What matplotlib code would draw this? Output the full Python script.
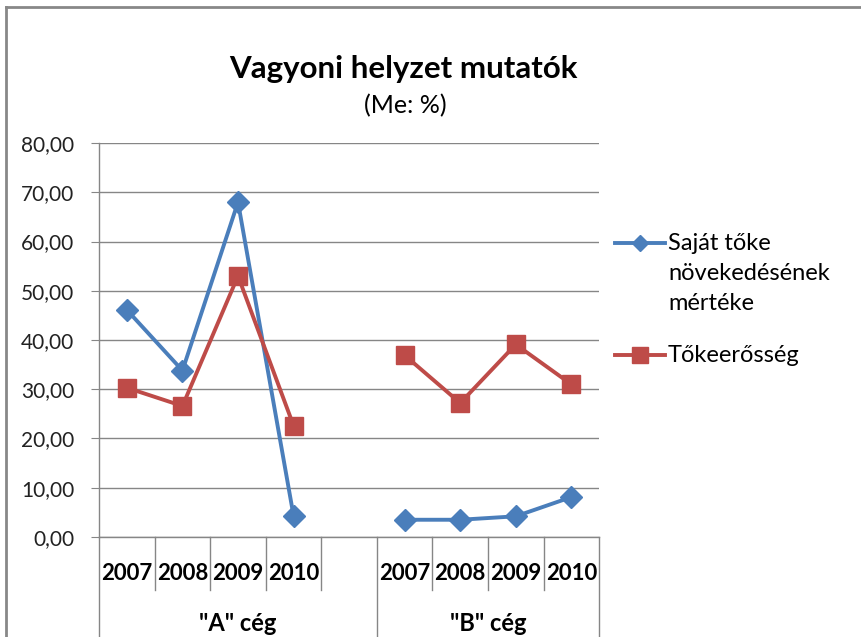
import matplotlib
matplotlib.use('Agg')
import matplotlib.pyplot as plt
import matplotlib.transforms as mtransforms
from matplotlib.lines import Line2D
import numpy as np

plt.rcParams['font.family'] = ['Lato', 'DejaVu Sans']

# data
years = ["2007", "2008", "2009", "2010"]
companies = ['"A" cég', '"B" cég']
sajat_toke_a = [46.1, 33.8, 68.0, 4.3]
sajat_toke_b = [3.5, 3.5, 4.2, 8.1]
tokeerosseg_a = [30.3, 26.6, 53.0, 22.6]
tokeerosseg_b = [36.9, 27.2, 39.1, 31.0]
series_names = [["Saját tőke", "növekedésének", "mértéke"], ["Tőkeerősség"]]
yticks = [0, 10, 20, 30, 40, 50, 60, 70, 80]

blue = '#4A7EBB'
red = '#BE4B48'
grid_col = '#868686'

# categories: 4 years for A, one empty slot, 4 years for B
cat_labels = years + [""] + years
pos_a = np.arange(4)
pos_b = np.arange(5, 9)

fig = plt.figure(figsize=(8.62, 6.37), dpi=100)
ax = fig.add_axes([0.115, 0.157, 0.580, 0.6185])

for pos, vals in ((pos_a, sajat_toke_a), (pos_b, sajat_toke_b)):
    ax.plot(pos, vals, color=blue, lw=2.8, marker='D', markersize=11,
            markeredgecolor=blue, zorder=3)
for pos, vals in ((pos_a, tokeerosseg_a), (pos_b, tokeerosseg_b)):
    ax.plot(pos, vals, color=red, lw=2.8, marker='s', markersize=13,
            markeredgecolor=red, zorder=3)

ax.set_xlim(-0.5, len(cat_labels) - 0.5)
ax.set_ylim(0, 80)
ax.set_yticks(yticks)
ax.set_yticklabels([f"{v:.2f}".replace('.', ',') for v in yticks],
                   fontsize=15, color='#222222')
ax.yaxis.grid(True, color=grid_col, lw=1)
ax.set_axisbelow(True)
ax.tick_params(axis='y', length=6, color=grid_col, pad=12)
ax.set_xticks([])

for side in ('top', 'right'):
    ax.spines[side].set_visible(False)
for side in ('left', 'bottom'):
    ax.spines[side].set_color(grid_col)
    ax.spines[side].set_linewidth(1)

# multi-level category axis
trans = mtransforms.blended_transform_factory(ax.transData, ax.transAxes)
bounds = np.arange(-0.5, len(cat_labels), 1.0)
for b in bounds:
    long_line = b in (-0.5, 4.5, len(cat_labels) - 0.5)
    ax.plot([b, b], [0, -0.26 if long_line else -0.135], transform=trans,
            color=grid_col, lw=1, clip_on=False)
for i, lab in enumerate(cat_labels):
    ax.text(i, -0.092, lab, transform=trans, ha='center', va='center',
            fontsize=16, fontweight='bold', color='black')
for centre, name in zip((pos_a.mean() + 0.5, pos_b.mean()), companies):
    ax.text(centre, -0.22, name, transform=trans, ha='center', va='center',
            fontsize=17, fontweight='bold', color='black')

# titles
fig.text(0.468, 0.891, "Vagyoni helyzet mutatók", ha='center', va='center',
         fontsize=22.5, fontweight='bold')
fig.text(0.47, 0.834, "(Me: %)", ha='center', va='center', fontsize=18)

# legend
line_step = 30 / 637
for y, col, mk, ms, lines in ((0.6185, blue, 'D', 8, series_names[0]),
                              (0.4427, red, 's', 11, series_names[1])):
    fig.add_artist(Line2D([0.714, 0.771], [y, y], color=col, lw=2.8,
                          marker=None, transform=fig.transFigure))
    fig.add_artist(Line2D([0.7425], [y], color=col, marker=mk, markersize=ms,
                          markeredgecolor=col, transform=fig.transFigure))
    for k, txt in enumerate(lines):
        fig.text(0.775, y - k * line_step, txt, ha='left', va='center',
                 fontsize=17)

# chart area border (left and top visible)
fig.add_artist(Line2D([0.0075, 0.0075], [0, 0.989], color='#888888', lw=2,
                      transform=fig.transFigure))
fig.add_artist(Line2D([0.0075, 1], [0.989, 0.989], color='#888888', lw=2,
                      transform=fig.transFigure))

fig.savefig('out.png', dpi=100)
